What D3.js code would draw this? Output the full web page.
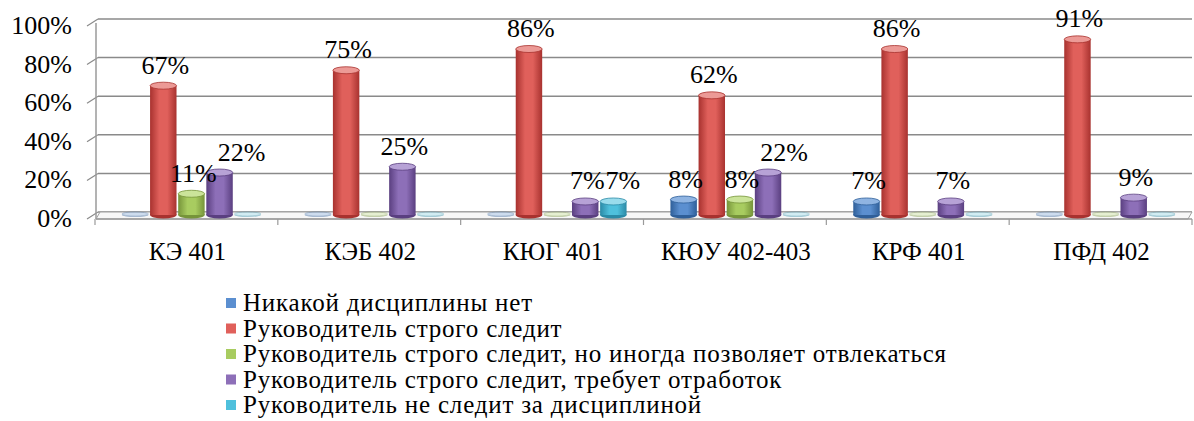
<!DOCTYPE html>
<html>
<head>
<meta charset="utf-8">
<script src="https://cdn.jsdelivr.net/npm/d3@7"></script>
<style>
  body { margin: 0; background: #fff; }
</style>
</head>
<body>
<div id="chart"></div>
<script>
// data
var categories = ["КЭ 401", "КЭБ 402", "КЮГ 401", "КЮУ 402-403", "КРФ 401", "ПФД 402"];
var seriesNames = [
  "Никакой дисциплины нет",
  "Руководитель строго следит",
  "Руководитель строго следит, но иногда позволяет отвлекаться",
  "Руководитель строго следит, требует отработок",
  "Руководитель не следит за дисциплиной"
];
var noDiscipline   = [0, 0, 0, 8, 7, 0];
var strict         = [67, 75, 86, 62, 86, 91];
var strictLenient  = [11, 0, 0, 8, 0, 0];
var strictMakeup   = [22, 25, 7, 22, 7, 9];
var notWatching    = [0, 0, 7, 0, 0, 0];
var yTicks = [0, 20, 40, 60, 80, 100];

var seriesValues = [noDiscipline, strict, strictLenient, strictMakeup, notWatching];
// [edge, middle, top] shades per series
var colors = [
  ["#2f5f99", "#5b8fd0", "#8fb4e2"],
  ["#a8322f", "#e0605b", "#ec9a96"],
  ["#76943a", "#a8cc60", "#cbe49a"],
  ["#5a3f80", "#8d6fb8", "#b7a2d6"],
  ["#2b8aa6", "#4fc0dc", "#9adcec"]
];
var FONT = "'Liberation Serif', 'Times New Roman', Tinos, 'DejaVu Serif', serif";

var W = 1194, H = 421;
var svg = d3.select("#chart").append("svg")
  .attr("width", W).attr("height", H)
  .attr("font-family", FONT);

var defs = svg.append("defs");
colors.forEach(function(c, i) {
  var g = defs.append("linearGradient").attr("id", "cyl" + i)
    .attr("x1", "0").attr("x2", "1").attr("y1", "0").attr("y2", "0");
  g.append("stop").attr("offset", "0%").attr("stop-color", c[0]);
  g.append("stop").attr("offset", "35%").attr("stop-color", c[1]);
  g.append("stop").attr("offset", "65%").attr("stop-color", c[1]);
  g.append("stop").attr("offset", "100%").attr("stop-color", c[0]);
});

var x0 = d3.scaleBand().domain(categories).range([95, 1192]);
var x1 = d3.scaleBand().domain(d3.range(seriesNames.length))
  .range([0, x0.bandwidth()]).paddingInner(0.06).paddingOuter(0.78);
var y = d3.scaleLinear().domain([0, 100]).range([215, 22]);
var depth = 3;   // back wall offset

// gridlines on the back wall
var grid = svg.append("g");
grid.selectAll("line.grid").data(yTicks).enter().append("line")
  .attr("x1", 98).attr("x2", 1192)
  .attr("y1", function(d) { return y(d) - depth; })
  .attr("y2", function(d) { return y(d) - depth; })
  .attr("stroke", "#8a8a8a").attr("stroke-width", 1.5);
// slanted left ticks
grid.selectAll("line.tick").data(yTicks).enter().append("line")
  .attr("x1", 87).attr("x2", 98)
  .attr("y1", function(d) { return y(d) + 4; })
  .attr("y2", function(d) { return y(d) - depth; })
  .attr("stroke", "#8a8a8a").attr("stroke-width", 1.2);
// left wall edge
svg.append("line").attr("x1", 96).attr("x2", 96)
  .attr("y1", y(100) + 1).attr("y2", 219)
  .attr("stroke", "#9a9a9a").attr("stroke-width", 1.5);

// floor
svg.append("path")
  .attr("d", "M96,219 L100," + (y(0) - depth) + " L1192," + (y(0) - depth) + " L1188,219 Z")
  .attr("fill", "#f7f7f7").attr("stroke", "#a0a0a0").attr("stroke-width", 1);
svg.append("line").attr("x1", 96).attr("x2", 1192).attr("y1", 219).attr("y2", 219)
  .attr("stroke", "#9a9a9a").attr("stroke-width", 1.5);

// category ticks
svg.selectAll("line.cat").data(categories.concat(["end"])).enter().append("line")
  .attr("x1", function(d, i) { return 95 + i * x0.step(); })
  .attr("x2", function(d, i) { return 95 + i * x0.step(); })
  .attr("y1", 219).attr("y2", 225)
  .attr("stroke", "#9a9a9a").attr("stroke-width", 1.2);

// y axis labels
svg.append("g").selectAll("text").data(yTicks).enter().append("text")
  .attr("x", 72).attr("y", function(d) { return y(d) + 12; })
  .attr("text-anchor", "end").attr("font-size", 26)
  .text(function(d) { return d + "%"; });

// category labels
svg.append("g").selectAll("text").data(categories).enter().append("text")
  .attr("x", function(d) { return x0(d) + x0.bandwidth() / 2 + 1; })
  .attr("y", 260)
  .attr("text-anchor", "middle").attr("font-size", 25)
  .text(function(d) { return d; });

// bars as cylinders
var shift = 5;
var rows = [];
categories.forEach(function(cat, ci) {
  seriesValues.forEach(function(vals, si) {
    rows.push({ cat: cat, s: si, v: vals[ci] });
  });
});

var bw = x1.bandwidth();
var ry = 3.5;
var bars = svg.append("g").selectAll("g").data(rows).enter().append("g")
  .attr("transform", function(d) { return "translate(" + (x0(d.cat) + x1(d.s) + shift) + ",0)"; })
  .attr("opacity", function(d) { return d.v === 0 ? 0.4 : 1; });

bars.append("ellipse")
  .attr("cx", bw / 2).attr("cy", y(0))
  .attr("rx", bw / 2).attr("ry", function(d) { return d.v === 0 ? 2 : ry; })
  .attr("fill", function(d) { return colors[d.s][0]; });
bars.filter(function(d) { return d.v > 0; }).append("rect")
  .attr("x", 0).attr("width", bw)
  .attr("y", function(d) { return y(d.v); })
  .attr("height", function(d) { return y(0) - y(d.v); })
  .attr("fill", function(d) { return "url(#cyl" + d.s + ")"; });
bars.append("ellipse")
  .attr("cx", bw / 2)
  .attr("cy", function(d) { return d.v === 0 ? y(0) - 1 : y(d.v); })
  .attr("rx", bw / 2).attr("ry", function(d) { return d.v === 0 ? 2 : ry; })
  .attr("fill", function(d) { return colors[d.s][2]; })
  .attr("stroke", function(d) { return colors[d.s][0]; })
  .attr("stroke-width", 0.8);

// value labels
var labels = svg.append("g").selectAll("text").data(rows.filter(function(d) { return d.v > 0; }))
  .enter().append("text")
  .attr("x", function(d) { return x0(d.cat) + x1(d.s) + shift + bw / 2 + 2; })
  .attr("y", function(d) { return y(d.v) - 12; })
  .attr("text-anchor", "middle").attr("font-size", 26)
  .text(function(d) { return d.v + "%"; });

// push a label right when it runs into its left neighbour
var prev = null;
labels.each(function() {
  var b = this.getBBox();
  if (prev && b.x < prev.x + prev.width + 1 &&
      b.y < prev.y + prev.height && b.y + b.height > prev.y) {
    var dx = prev.x + prev.width + 1 - b.x;
    d3.select(this).attr("x", +d3.select(this).attr("x") + dx);
    b = this.getBBox();
  }
  prev = b;
});

// legend
var legend = svg.append("g").selectAll("g").data(seriesNames).enter().append("g")
  .attr("transform", function(d, i) { return "translate(226," + (303 + i * 25.5) + ")"; });
legend.append("rect")
  .attr("x", 0).attr("y", -5).attr("width", 10).attr("height", 10)
  .attr("fill", function(d, i) { return colors[i][1]; });
legend.append("text")
  .attr("x", 17).attr("y", 8).attr("font-size", 25)
  .attr("letter-spacing", 0.8)
  .text(function(d) { return d; });
</script>
</body>
</html>
